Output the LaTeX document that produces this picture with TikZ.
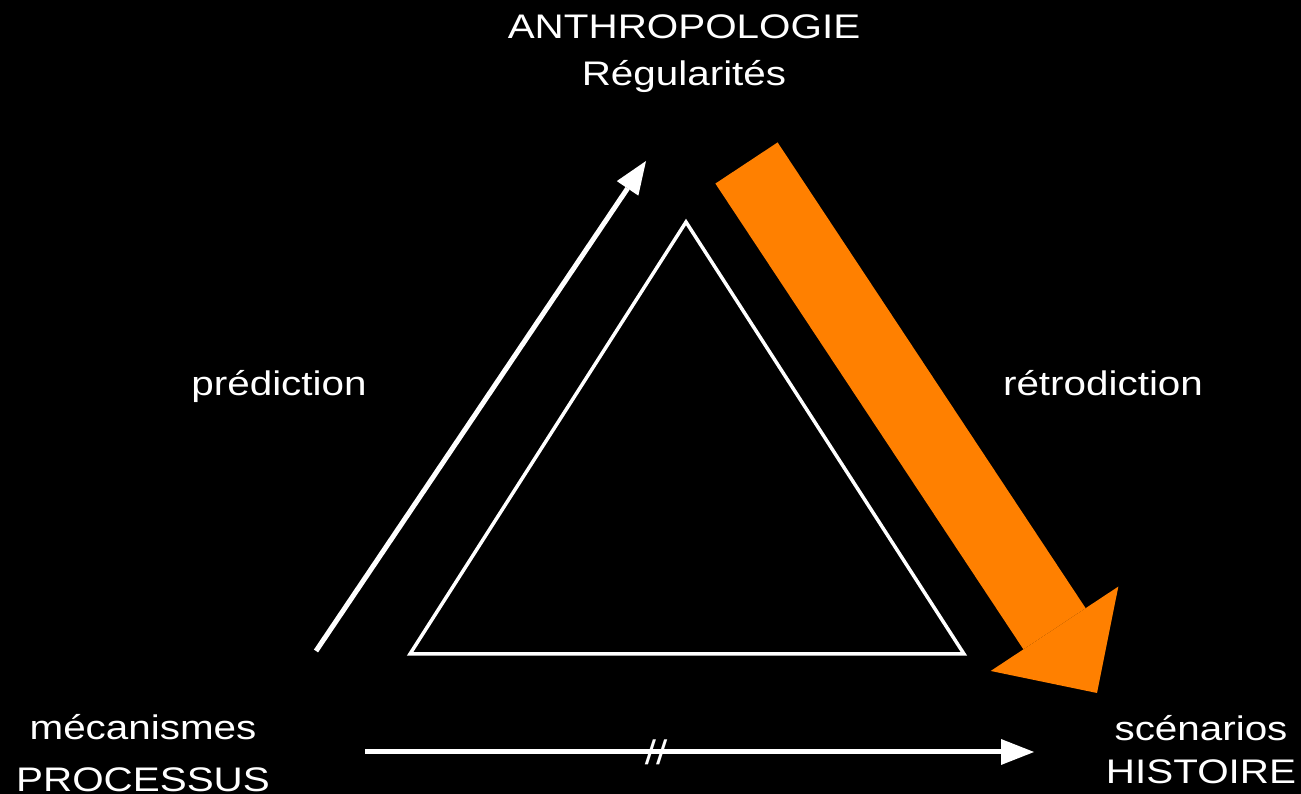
\documentclass[tikz,border=0pt]{standalone}
\usepackage{fontspec}
\setmainfont{Liberation Sans}[FakeStretch=1.185]
\usepackage{tikz}
\usetikzlibrary{arrows.meta, positioning}
\definecolor{OR}{RGB}{255,128,0}
\definecolor{WT}{RGB}{255,255,255}

\begin{document}
\begin{tikzpicture}[
  lbl/.style={text=WT, align=center, inner sep=0pt, anchor=base,
              font=\fontsize{9.7}{13.6}\selectfont},
  conn/.style={draw=WT, line width=0.05cm,
               -{Triangle[length=3.3mm, width=2.6mm, line width=0pt]}},
  bigarr/.style={draw=OR, line width=0.746cm,
                 -{Triangle[length=7.7mm, width=15.3mm, line width=0pt]}},
  tri/.style={draw=WT, line width=0.035cm, line join=miter}
]
% Background
\fill[black] (0,0) rectangle (13.01,7.94);
\useasboundingbox (0,0) rectangle (13.01,7.94);

% Labels (base = last line)
\node[lbl] (anthro) at (6.84, 7.08) {ANTHROPOLOGIE\\Régularités};
\node[lbl] (pred)   at (2.79, 3.98) {prédiction};
\node[lbl] (retro)  at (11.03, 3.98) {rétrodiction};
\node[lbl] (meca)   at (1.43, 0.02) {mécanismes\\[1.4pt]PROCESSUS};
\node[lbl] (scen)   at (12.01, 0.10) {scénarios\\[-1.1pt]HISTOIRE};

% Arrow ends
\coordinate (predA) at (3.16, 1.43);
\coordinate (predB) at (6.46, 6.33);
\coordinate (retA)  at (7.465, 6.31);
\coordinate (retB)  at (10.97, 1.01);
\coordinate (histA) at (3.65, 0.42);
\coordinate (histB) at (10.34, 0.42);

% Triangle
\coordinate (tA) at (6.86, 5.72);
\coordinate (tB) at (4.10, 1.40);
\coordinate (tC) at (9.64, 1.40);
\draw[tri] (tA)--(tB)--(tC)--cycle;

% Connections
\draw[conn] (predA)--(predB);
\draw[bigarr] (retA)--(retB);
\draw[conn] (histA)--(histB) node[lbl, anchor=center, pos=0.435] (nope) {//};
\end{tikzpicture}
\end{document}
